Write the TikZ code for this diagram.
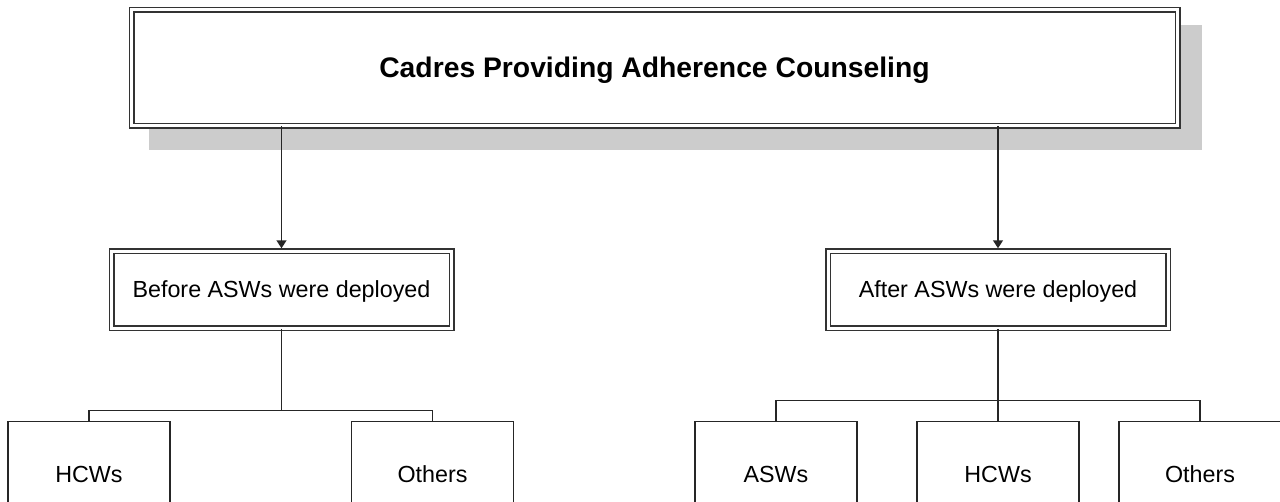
\documentclass[tikz,border=0pt]{standalone}
\usepackage{fontspec}
\setmainfont{Liberation Sans}
\usetikzlibrary{arrows.meta,backgrounds}

\begin{document}
\begin{tikzpicture}[x=1pt,y=-1pt,
    link/.style={draw=black!85,line width=1.5pt},
    arr/.style={link,-{Triangle[width=10pt,length=8pt]},shorten >=2pt},
    dbox/.style={draw=black!80,line width=1.5pt,double,double distance=3pt,fill=white,text depth=0pt,
      minimum width=340pt,minimum height=77pt,inner sep=0pt,font=\fontsize{23.3}{28}\selectfont},
    leaf/.style={draw=black!85,line width=1.6pt,fill=white,
      minimum width=162pt,minimum height=106pt,inner sep=0pt,font=\fontsize{23.3}{28}\selectfont}]
    \useasboundingbox (0,0) rectangle (1280,501);
    \clip (0,0) rectangle (1280,501);

    % top box with its shadow
    \node[dbox,minimum width=1046pt,minimum height=116pt,font=\bfseries\fontsize{28.3}{34}\selectfont]
      (title) at (654.5,67.5) {Cadres Providing Adherence Counseling};
    \begin{scope}[on background layer]
      \fill[black!20] ([shift={(18.5,16.5)}]title.north west) rectangle ([shift={(23.5,23.5)}]title.south east);
    \end{scope}

    % the two periods
    \node[dbox] (before) at (281.5,289.5) {Before ASWs were deployed};
    \node[dbox] (after) at (998,289.5) {After ASWs were deployed};
    \draw[arr] (title.south -| before.north) -- (before.north);
    \draw[arr] (title.south -| after.north) -- (after.north);

    % cadres before
    \node[leaf] (hcwA) at (89,474.5) {HCWs};
    \node[leaf] (othA) at (432.5,474.5) {Others};
    \coordinate (barA) at (281.5,410.7);
    \draw[link] (before.south) -- (barA);
    \draw[link] (hcwA.north) |- (barA) -| (othA.north);

    % cadres after
    \node[leaf] (asw) at (776,474.5) {ASWs};
    \node[leaf] (hcwB) at (998,474.5) {HCWs};
    \node[leaf] (othB) at (1200,474.5) {Others};
    \coordinate (barB) at (998,400.7);
    \draw[link] (after.south) -- (hcwB.north);
    \draw[link] (asw.north) |- (barB) -| (othB.north);

  \end{tikzpicture}
\end{document}
